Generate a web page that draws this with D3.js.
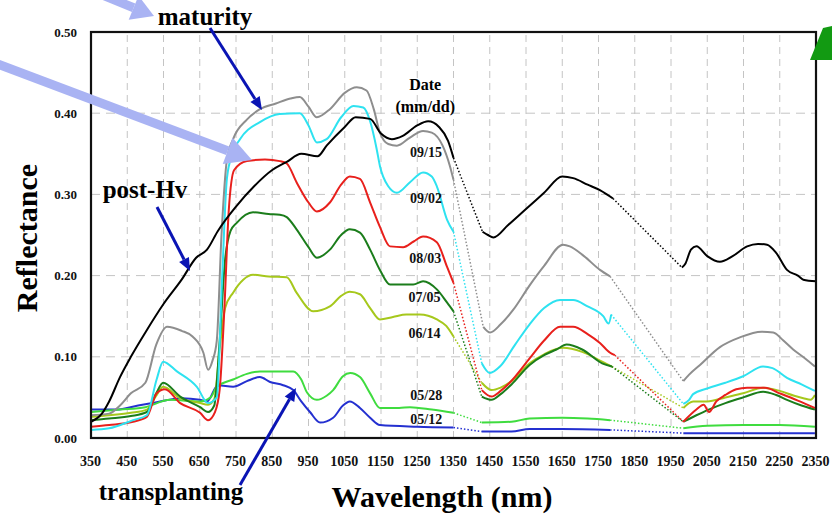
<!DOCTYPE html>
<html>
<head>
<meta charset="utf-8">
<script src="https://cdn.jsdelivr.net/npm/d3@7"></script>
<style>
  body { margin: 0; background: #fff; }
  svg { display: block; }
  text { font-family: "Liberation Serif", "Times New Roman", serif; font-weight: bold; }
</style>
</head>
<body>
<svg id="chart"></svg>
<script>
// tick values
const xTicks = d3.range(350, 2351, 100);
const yTicks = [0, 0.1, 0.2, 0.3, 0.4, 0.5];

// each series: three measured pieces [nm, reflectance], water bands bridged with dots
const postHv = [
  [[350,.020],[380,.030],[400,.045],[430,.075],[460,.100],[500,.130],[550,.165],[600,.195],[640,.222],[670,.232],[700,.255],[750,.285],[800,.310],[850,.330],[890,.340],[930,.350],[975,.347],[1000,.360],[1050,.383],[1080,.395],[1120,.393],[1150,.375],[1180,.368],[1210,.372],[1250,.385],[1280,.390],[1310,.383],[1335,.366],[1350,.345]],
  [[1430,.254],[1445,.250],[1460,.247],[1500,.262],[1550,.282],[1600,.302],[1650,.322],[1680,.320],[1720,.312],[1755,.305],[1790,.295]],
  [[1980,.210],[1990,.215],[2005,.232],[2020,.236],[2050,.224],[2085,.217],[2120,.224],[2160,.236],[2190,.239],[2215,.238],[2240,.228],[2270,.207],[2300,.200],[2315,.195],[2350,.193]]
];
const d0915 = [
  [[350,.028],[400,.030],[430,.040],[460,.055],[500,.068],[530,.115],[560,.137],[600,.132],[630,.125],[660,.105],[673,.084],[685,.095],[697,.120],[710,.250],[725,.343],[742,.368],[780,.392],[816,.405],[860,.412],[900,.418],[926,.420],[950,.408],[973,.395],[1009,.405],[1050,.425],[1083,.432],[1110,.428],[1130,.405],[1147,.376],[1170,.362],[1194,.360],[1230,.370],[1266,.378],[1290,.376],[1320,.360],[1340,.335],[1350,.318]],
  [[1432,.137],[1451,.130],[1480,.140],[1515,.158],[1560,.188],[1600,.212],[1652,.238],[1671,.236],[1710,.224],[1754,.207],[1782,.199]],
  [[1984,.070],[2000,.078],[2030,.090],[2085,.112],[2140,.124],[2200,.131],[2232,.130],[2260,.120],[2287,.109],[2320,.098],[2347,.088]]
];
const d0902 = [
  [[350,.010],[400,.012],[466,.022],[504,.028],[531,.072],[549,.094],[587,.082],[642,.063],[673,.043],[697,.050],[712,.200],[725,.320],[740,.350],[761,.368],[816,.389],[870,.399],[926,.400],[950,.385],[973,.364],[1000,.368],[1040,.395],[1074,.409],[1101,.407],[1120,.390],[1138,.356],[1147,.335],[1170,.310],[1194,.302],[1230,.315],[1266,.327],[1290,.322],[1304,.310],[1332,.269],[1350,.254]],
  [[1428,.092],[1450,.080],[1478,.088],[1520,.115],[1560,.140],[1600,.160],[1644,.170],[1680,.170],[1720,.162],[1763,.150],[1778,.141],[1785,.152]],
  [[1984,.042],[2000,.047],[2011,.054],[2050,.061],[2100,.068],[2149,.076],[2204,.088],[2230,.086],[2270,.074],[2310,.066],[2347,.058]]
];
const d0803 = [
  [[350,.014],[400,.016],[466,.020],[504,.026],[531,.055],[554,.060],[596,.043],[651,.031],[673,.022],[692,.032],[705,.060],[718,.160],[730,.280],[745,.330],[780,.341],[830,.343],[871,.341],[890,.338],[917,.315],[950,.290],[973,.279],[1009,.290],[1040,.312],[1064,.322],[1092,.319],[1120,.290],[1147,.260],[1175,.236],[1211,.235],[1240,.242],[1266,.248],[1304,.241],[1332,.211],[1350,.191]],
  [[1428,.059],[1455,.051],[1480,.058],[1505,.068],[1560,.098],[1600,.120],[1644,.137],[1680,.137],[1720,.128],[1754,.117],[1782,.105],[1795,.102]],
  [[1984,.020],[2020,.035],[2040,.041],[2055,.032],[2075,.045],[2100,.053],[2130,.060],[2160,.062],[2210,.062],[2250,.055],[2300,.046],[2347,.037]]
];
const d0705 = [
  [[350,.022],[400,.024],[460,.027],[504,.032],[530,.055],[549,.068],[596,.051],[651,.038],[673,.032],[690,.040],[705,.120],[720,.220],[735,.255],[752,.265],[797,.278],[840,.276],[871,.275],[890,.272],[917,.257],[950,.235],[973,.222],[1009,.232],[1040,.250],[1064,.257],[1092,.253],[1120,.232],[1147,.207],[1175,.189],[1239,.189],[1266,.193],[1304,.183],[1332,.167],[1350,.156]],
  [[1428,.051],[1455,.047],[1480,.054],[1510,.066],[1560,.090],[1600,.102],[1634,.109],[1662,.115],[1705,.109],[1760,.092],[1787,.088]],
  [[1984,.020],[2020,.028],[2054,.035],[2100,.043],[2149,.050],[2204,.057],[2240,.053],[2270,.047],[2310,.040],[2347,.035]]
];
const d0614 = [
  [[350,.026],[400,.028],[460,.031],[504,.035],[530,.052],[549,.063],[596,.049],[651,.043],[673,.041],[690,.048],[705,.110],[720,.160],[742,.179],[770,.195],[797,.201],[840,.199],[890,.198],[917,.179],[963,.156],[1009,.162],[1040,.175],[1064,.180],[1092,.177],[1120,.160],[1147,.146],[1183,.149],[1220,.152],[1257,.152],[1304,.146],[1330,.138],[1350,.125]],
  [[1428,.068],[1455,.059],[1480,.062],[1510,.070],[1560,.092],[1600,.103],[1652,.111],[1705,.106],[1760,.094],[1787,.088]],
  [[1984,.037],[2011,.045],[2050,.045],[2100,.050],[2149,.055],[2204,.062],[2250,.058],[2290,.052],[2315,.049],[2335,.047],[2347,.053]]
];
const d0528 = [
  [[350,.032],[430,.035],[500,.038],[568,.047],[651,.045],[680,.050],[697,.063],[742,.072],[780,.079],[816,.082],[908,.082],[930,.072],[946,.056],[973,.047],[1000,.052],[1018,.059],[1045,.076],[1065,.080],[1092,.075],[1120,.055],[1147,.037],[1200,.037],[1230,.038],[1290,.035],[1350,.031]],
  [[1428,.019],[1510,.020],[1560,.024],[1650,.025],[1720,.024],[1782,.022]],
  [[1984,.012],[2050,.015],[2150,.016],[2250,.016],[2347,.014]]
];
const d0512 = [
  [[350,.035],[420,.035],[480,.040],[520,.043],[600,.049],[650,.047],[670,.045],[700,.065],[742,.063],[780,.070],[816,.075],[844,.069],[880,.065],[908,.059],[930,.045],[954,.032],[982,.019],[1018,.025],[1045,.040],[1064,.045],[1092,.037],[1120,.025],[1147,.016],[1250,.014],[1350,.013]],
  [[1428,.008],[1510,.008],[1560,.011],[1650,.011],[1782,.010]],
  [[1984,.006],[2150,.006],[2347,.006]]
];

// date labels: [text, nm, reflectance]
const dateLabels = [
  ["09/15", 1274, .346], ["09/02", 1274, .290], ["08/03", 1272, .216],
  ["07/05", 1270, .167], ["06/14", 1270, .123], ["05/28", 1275, .047], ["05/12", 1275, .017]
];

const series = [
  { data: d0512, color: "#2430d0" },
  { data: d0528, color: "#3fdc3f" },
  { data: d0614, color: "#a6c81c" },
  { data: d0705, color: "#1b7d1b" },
  { data: d0803, color: "#e8201c" },
  { data: d0902, color: "#2ee2f0" },
  { data: d0915, color: "#8e8e8e" },
  { data: postHv, color: "#000000" }
];

const width = 832, height = 519;
const m = { left: 91, top: 32, right: 16, bottom: 81 };

const svg = d3.select("#chart").attr("width", width).attr("height", height);

const x = d3.scaleLinear().domain([350, 2350]).range([m.left, width - m.right]);
const y = d3.scaleLinear().domain([0, 0.5]).range([height - m.bottom, m.top]);

// grid
svg.append("g").selectAll("line")
  .data(xTicks.slice(1, -1)).enter().append("line")
  .attr("x1", d => x(d)).attr("x2", d => x(d))
  .attr("y1", y(0)).attr("y2", y(0.5))
  .attr("stroke", "#c4c4c4").attr("stroke-width", 1).attr("stroke-dasharray", "7,5");
svg.append("g").selectAll("line")
  .data(yTicks.slice(1, -1)).enter().append("line")
  .attr("x1", x(350)).attr("x2", x(2350))
  .attr("y1", d => y(d)).attr("y2", d => y(d))
  .attr("stroke", "#c4c4c4").attr("stroke-width", 1).attr("stroke-dasharray", "9,6");

// axes
const xAxis = svg.append("g")
  .attr("transform", `translate(0,${y(0)})`)
  .call(d3.axisBottom(x).tickValues(xTicks).tickSize(0).tickPadding(18).tickFormat(d3.format("d")));
xAxis.select(".domain").remove();
xAxis.selectAll("text").attr("font-size", 14).attr("fill", "#111")
  .style("font-family", "'Liberation Serif', serif").attr("dx", -1);

const yAxis = svg.append("g")
  .attr("transform", `translate(${x(350)},0)`)
  .call(d3.axisLeft(y).tickValues(yTicks).tickSize(0).tickPadding(14).tickFormat(d3.format(".2f")));
yAxis.select(".domain").remove();
yAxis.selectAll("text").attr("font-size", 13).attr("fill", "#111")
  .style("font-family", "'Liberation Serif', serif");

// curves
const line = d3.line().x(d => x(d[0])).y(d => y(d[1])).curve(d3.curveMonotoneX);
series.forEach(s => {
  const g = svg.append("g");
  s.data.forEach((seg, i) => {
    g.append("path").attr("d", line(seg))
      .attr("fill", "none").attr("stroke", s.color)
      .attr("stroke-width", 2).attr("stroke-linejoin", "round");
    if (i < s.data.length - 1) {
      const gap = [seg[seg.length - 1], s.data[i + 1][0]];
      g.append("path").attr("d", line(gap))
        .attr("fill", "none").attr("stroke", s.color)
        .attr("stroke-width", 1.5).attr("stroke-dasharray", "1.5,2");
    }
  });
});

// frame
svg.append("rect")
  .attr("x", x(350)).attr("y", y(0.5))
  .attr("width", x(2350) - x(350)).attr("height", y(0) - y(0.5))
  .attr("fill", "none").attr("stroke", "#111").attr("stroke-width", 2.2);

// date labels
svg.append("g").selectAll("text")
  .data(dateLabels).enter().append("text")
  .attr("x", d => x(d[1])).attr("y", d => y(d[2]))
  .attr("text-anchor", "middle").attr("font-size", 14).attr("fill", "#111")
  .text(d => d[0]);
svg.append("text").attr("x", x(1272)).attr("y", 90)
  .attr("text-anchor", "middle").attr("font-size", 16).text("Date");
svg.append("text").attr("x", x(1272)).attr("y", 112)
  .attr("text-anchor", "middle").attr("font-size", 16).text("(mm/dd)");

// axis titles
svg.append("text")
  .attr("transform", `translate(37,${(y(0) + y(0.5)) / 2 + 3}) rotate(-90)`)
  .attr("text-anchor", "middle").attr("font-size", 30).text("Reflectance");
svg.append("text").attr("x", 442).attr("y", 507)
  .attr("text-anchor", "middle").attr("font-size", 30).text("Wavelength (nm)");

// annotations
function arrow(x1, y1, x2, y2, w, hl, hw, color) {
  const a = Math.atan2(y2 - y1, x2 - x1);
  const bx = x2 - hl * Math.cos(a), by = y2 - hl * Math.sin(a);
  const nx = -Math.sin(a) * hw / 2, ny = Math.cos(a) * hw / 2;
  svg.append("line").attr("x1", x1).attr("y1", y1).attr("x2", bx).attr("y2", by)
    .attr("stroke", color).attr("stroke-width", w);
  svg.append("polygon")
    .attr("points", `${x2},${y2} ${bx + nx},${by + ny} ${bx - nx},${by - ny}`)
    .attr("fill", color);
}

const noteFont = 25;
svg.append("text").attr("x", 205).attr("y", 25).attr("text-anchor", "middle")
  .attr("font-size", noteFont).text("maturity");
svg.append("text").attr("x", 145).attr("y", 198).attr("text-anchor", "middle")
  .attr("font-size", noteFont).text("post-Hv");
svg.append("text").attr("x", 171).attr("y", 500).attr("text-anchor", "middle")
  .attr("font-size", noteFont).text("transplanting");

arrow(210, 28, 262, 110, 3, 13, 11, "#0a14b4");
arrow(157, 207, 190, 271, 3, 13, 11, "#0a14b4");
arrow(240, 485, 296, 388, 3, 13, 11, "#0a14b4");

const lb = "#a9b3f3";
arrow(95, -8, 154, 16, 9, 22, 26, lb);
arrow(-5, 63, 252, 160, 9, 26, 28, lb);

svg.append("polygon")
  .attr("points", "810,60 823,28 832,26 832,60")
  .attr("fill", "#129a12");
</script>
</body>
</html>
